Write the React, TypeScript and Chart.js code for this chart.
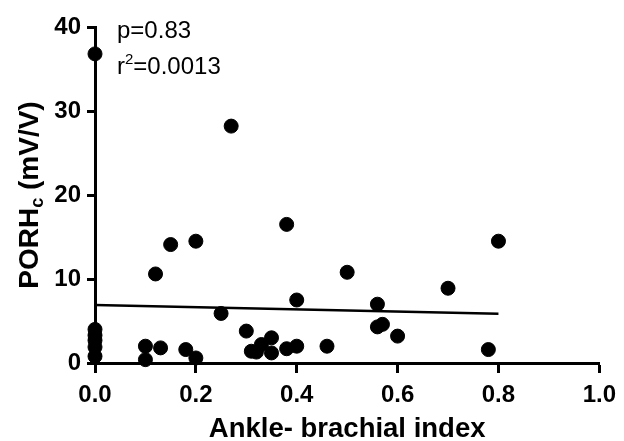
import React, { useEffect, useRef } from "react";
import { Chart, registerables } from "chart.js";

Chart.register(...registerables);

const abiValues = [
  0, 0, 0, 0, 0, 0,
  0.10, 0.10, 0.12, 0.13, 0.15, 0.18, 0.20, 0.20,
  0.25, 0.27, 0.30, 0.31, 0.32, 0.33, 0.35, 0.35,
  0.38, 0.38, 0.40, 0.40, 0.46, 0.50, 0.56, 0.56, 0.57, 0.60, 0.70, 0.78, 0.80,
];
const porhValues = [
  36.8, 4.0, 3.3, 2.7, 1.9, 0.8,
  2.0, 0.4, 10.6, 1.8, 14.1, 1.6, 14.5, 0.6,
  5.9, 28.2, 3.8, 1.4, 1.3, 2.2, 3.0, 1.2,
  16.5, 1.7, 7.5, 2.0, 2.0, 10.8, 7.0, 4.3, 4.6, 3.2, 8.9, 1.6, 14.5,
];
const fitX = [0, 0.8];
const fitY = [6.9, 5.85];
const xTicks = [0, 0.2, 0.4, 0.6, 0.8, 1.0];
const yTicks = [0, 10, 20, 30, 40];
const statP = "p=0.83";
const statRBase = "r";
const statRSup = "2";
const statRRest = "=0.0013";
const xTitle = "Ankle- brachial index";
const yTitleMain = "PORH";
const yTitleSub = "c";
const yTitleRest = " (mV/V)";

const FONT = "'Liberation Sans', Arial, sans-serif";

const annotationPlugin = {
  id: "annot",
  afterDraw(chart: any) {
    const ctx = chart.ctx;
    const area = chart.chartArea;
    ctx.save();
    ctx.fillStyle = "#000";
    // stats text
    const stat = `24px ${FONT}`;
    const statSmall = `15px ${FONT}`;
    ctx.font = stat;
    ctx.textAlign = "left";
    ctx.textBaseline = "alphabetic";
    ctx.fillText(statP, 117, 38);
    let sx = 117;
    ctx.fillText(statRBase, sx, 74);
    sx += ctx.measureText(statRBase).width;
    ctx.font = statSmall;
    ctx.fillText(statRSup, sx, 64);
    sx += ctx.measureText(statRSup).width;
    ctx.font = stat;
    ctx.fillText(statRRest, sx, 74);
    // y title with subscript
    const cx = 30;
    const cy = (area.top + area.bottom) / 2;
    ctx.translate(cx, cy);
    ctx.rotate(-Math.PI / 2);
    const big = `bold 28px ${FONT}`;
    const small = `bold 18px ${FONT}`;
    ctx.font = big;
    const w1 = ctx.measureText(yTitleMain).width;
    const w3 = ctx.measureText(yTitleRest).width;
    ctx.font = small;
    const w2 = ctx.measureText(yTitleSub).width;
    const total = w1 + w2 + w3;
    let x = -total / 2;
    ctx.textBaseline = "middle";
    ctx.font = big;
    ctx.fillText(yTitleMain, x, 0);
    x += w1;
    ctx.font = small;
    ctx.fillText(yTitleSub, x, 8);
    x += w2;
    ctx.font = big;
    ctx.fillText(yTitleRest, x, 0);
    ctx.restore();
  },
};

export default function App() {
  const ref = useRef<HTMLCanvasElement | null>(null);
  useEffect(() => {
    if (!ref.current) return;
    const chart = new Chart(ref.current, {
      type: "scatter",
      data: {
        datasets: [
          {
            type: "scatter",
            data: abiValues.map((x, i) => ({ x, y: porhValues[i] })),
            backgroundColor: "#000",
            borderColor: "#000",
            pointRadius: 7,
            pointHoverRadius: 7,
            clip: false,
          } as any,
          {
            type: "line",
            data: fitX.map((x, i) => ({ x, y: fitY[i] })),
            borderColor: "#000",
            borderWidth: 2.5,
            pointRadius: 0,
            fill: false,
            clip: false,
          } as any,
        ],
      },
      options: {
        responsive: false,
        animation: false,
        devicePixelRatio: 1,
        layout: { padding: { top: 27, right: 20, left: 0, bottom: 0 } },
        plugins: {
          legend: { display: false },
          tooltip: { enabled: false },
          title: { display: false },
        },
        scales: {
          x: {
            type: "linear",
            min: 0,
            max: 1,
            afterBuildTicks: (s: any) => {
              s.ticks = xTicks.map((v) => ({ value: v }));
            },
            afterFit: (s: any) => {
              s.height = 78;
            },
            ticks: {
              color: "#000",
              font: { family: FONT, size: 24, weight: "bold" },
              padding: 8,
              maxRotation: 0,
              callback: (v: any) => Number(v).toFixed(1),
            },
            grid: {
              drawOnChartArea: false,
              drawTicks: true,
              tickLength: 10,
              tickWidth: 3,
              tickColor: "#000",
              color: "#000",
            },
            border: { display: true, width: 3, color: "#000" },
            title: {
              display: true,
              text: xTitle,
              color: "#000",
              font: { family: FONT, size: 27.5, weight: "bold" },
              padding: { top: 0, bottom: -5 },
            },
          },
          y: {
            type: "linear",
            min: 0,
            max: 40,
            afterBuildTicks: (s: any) => {
              s.ticks = yTicks.map((v) => ({ value: v }));
            },
            afterFit: (s: any) => {
              s.width = 95;
            },
            ticks: {
              color: "#000",
              font: { family: FONT, size: 24, weight: "bold" },
              padding: 6,
            },
            grid: {
              drawOnChartArea: false,
              drawTicks: true,
              tickLength: 8,
              tickWidth: 3,
              tickColor: "#000",
              color: "#000",
            },
            border: { display: true, width: 3, color: "#000" },
          },
        },
      } as any,
      plugins: [annotationPlugin],
    });
    return () => chart.destroy();
  }, []);
  return (
    <div style={{ position: "fixed", left: 0, top: 0, width: 624, height: 441, background: "#fff" }}>
      <canvas ref={ref} width={624} height={441} style={{ width: 624, height: 441 }} />
    </div>
  );
}
